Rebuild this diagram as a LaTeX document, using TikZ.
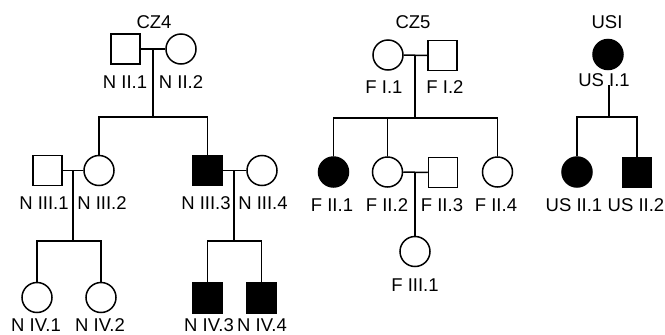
\documentclass[tikz,border=0pt]{standalone}
\usepackage{fontspec}
\setmainfont{Liberation Sans}
\begin{document}
\begin{tikzpicture}[x=1pt,y=-1pt,
  line width=1.5pt,
  male/.style={draw,rectangle,minimum width=29pt,minimum height=30pt,inner sep=0pt},
  female/.style={draw,circle,minimum size=30pt,inner sep=0pt},
  affected/.style={fill=black},
  lbl/.style={font=\fontsize{18.5}{21}\selectfont,inner sep=0pt,anchor=center},
  ttl/.style={font=\fontsize{18.5}{21}\selectfont,inner sep=0pt}]
\useasboundingbox (0,0) rectangle (665,335);

% ---------- CZ4 ----------
\node[ttl] (tczfour) at (154,22) {CZ4};
\node[male]   (n21) at (125.5,49) {};
\node[female] (n22) at (181,49) {};
\node[lbl] at (125,82) {N II.1};
\node[lbl] at (181,82) {N II.2};
\coordinate (m2) at (153,49);
\coordinate (s2) at (153,117);

\node[male]   (n31) at (47.5,170.5) {};
\node[female] (n32) at (99,170.5) {};
\node[male,affected] (n33) at (207.5,170.5) {};
\node[female] (n34) at (262,170.5) {};
\node[lbl] at (44,203) {N III.1};
\node[lbl] at (102,203) {N III.2};
\node[lbl] at (206,203) {N III.3};
\node[lbl] at (263,203) {N III.4};
\coordinate (ma) at (73,170.5);
\coordinate (sa) at (73,241);
\coordinate (mb) at (234,170.5);
\coordinate (sb) at (234,241);

\node[female] (n41) at (37,297.5) {};
\node[female] (n42) at (101,297.5) {};
\node[male,affected] (n43) at (207.5,298) {};
\node[male,affected] (n44) at (261.5,298) {};
\node[lbl] at (36,325.5) {N IV.1};
\node[lbl] at (100,325.5) {N IV.2};
\node[lbl] at (209,325.5) {N IV.3};
\node[lbl] at (262,325.5) {N IV.4};

\draw (n21) -- (n22);
\draw (m2) -- (s2);
\draw (n32.north) |- (s2) -| (n33.north);
\draw (n31) -- (n32);
\draw (ma) -- (sa);
\draw (n41.north) |- (sa) -| (n42.north);
\draw (n33) -- (n34);
\draw (mb) -- (sb);
\draw (n43.north) |- (sb) -| (n44.north);

% ---------- CZ5 ----------
\node[ttl] (tczfive) at (413,22) {CZ5};
\node[female] (f11) at (388,55) {};
\node[male]   (f12) at (442.5,55.5) {};
\node[lbl] at (384,87) {F I.1};
\node[lbl] at (445,87) {F I.2};
\coordinate (mf) at (415,55);
\coordinate (sf) at (415,118);

\node[female,affected] (f21) at (333.5,172) {};
\node[female] (f22) at (387.5,172) {};
\node[male]   (f23) at (443,172.5) {};
\node[female] (f24) at (497.5,172) {};
\node[lbl] at (332,205) {F II.1};
\node[lbl] at (387,205) {F II.2};
\node[lbl] at (442,205) {F II.3};
\node[lbl] at (496,205) {F II.4};
\coordinate (mg) at (415,173);

\node[female] (f31) at (415,251.5) {};
\node[lbl] at (415,285) {F III.1};

\draw (f11) -- (f12);
\draw (mf) -- (sf);
\draw (f21.north) |- (sf) -| (f24.north);
\draw (f22.north) -- (f22.north |- sf);
\draw (f22) -- (f23);
\draw (mg) -- (f31.north);

% ---------- USI ----------
\node[ttl] (tusi) at (607,22) {USI};
\node[female,affected] (u11) at (608,54.5) {};
\node[lbl] at (604,80) {US I.1};
\coordinate (mu) at (609,85);
\coordinate (su) at (609,117);

\node[female,affected] (u21) at (577,172) {};
\node[male,affected]   (u22) at (637,172.5) {};
\node[lbl] at (574,205) {US II.1};
\node[lbl] at (636,205) {US II.2};

\draw (mu) -- (su);
\draw (u21.north) |- (su) -| (u22.north);
\end{tikzpicture}
\end{document}
